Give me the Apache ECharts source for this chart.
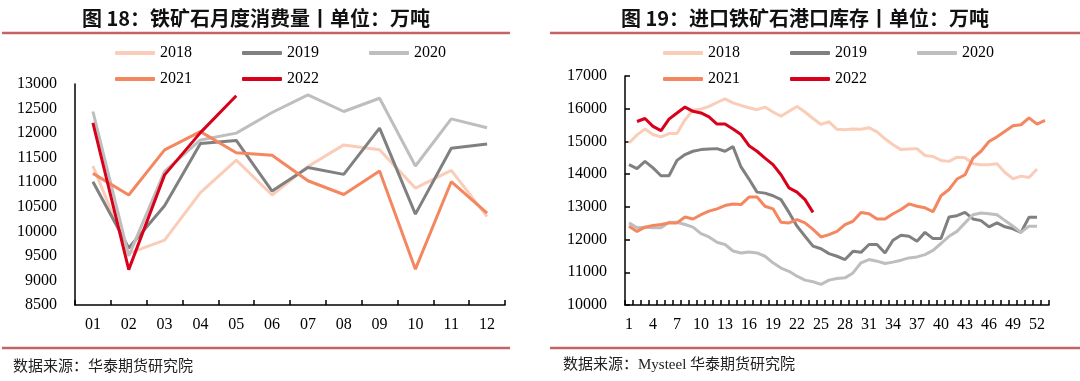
<!DOCTYPE html>
<html>
<head>
<meta charset="utf-8">
<script src="https://cdn.jsdelivr.net/npm/echarts@6/dist/echarts.min.js"></script>
<style>
html,body{margin:0;padding:0;background:#fff;}
#c{width:1080px;height:381px;}
</style>
</head>
<body>
<div id="c"></div>
<script>
// ---------- Data ----------
const months = ['01','02','03','04','05','06','07','08','09','10','11','12'];
const cons2018 = [11330, 9550, 9820, 10790, 11450, 10740, 11320, 11760, 11660, 10880, 11240, 10300];
const cons2019 = [11010, 9660, 10520, 11790, 11850, 10820, 11300, 11160, 12100, 10350, 11690, 11780];
const cons2020 = [12440, 9500, 11220, 11860, 12000, 12420, 12780, 12440, 12710, 11330, 12290, 12110];
const cons2021 = [11180, 10740, 11660, 12030, 11600, 11550, 11030, 10750, 11230, 9230, 11010, 10370];
const cons2022 = [12210, 9220, 11150, 12010, 12760];

const weeks = ['1','2','3','4','5','6','7','8','9','10','11','12','13','14','15','16','17','18','19','20',
  '21','22','23','24','25','26','27','28','29','30','31','32','33','34','35','36','37','38','39','40',
  '41','42','43','44','45','46','47','48','49','50','51','52','53'];
const port2018 = [14950,15200,15380,15210,15140,15240,15240,15660,15950,15990,16070,16190,16300,16180,16100,16030,15970,16050,15900,15770,
  15920,16070,15900,15700,15520,15600,15370,15360,15380,15370,15420,15290,15080,14900,14750,14770,14780,14570,14540,14420,
  14390,14520,14500,14320,14290,14290,14320,14050,13860,13940,13900,14160,null];
const port2019 = [14290,14170,14390,14190,13950,13950,14420,14600,14700,14750,14770,14780,14700,14840,14220,13850,13450,13420,13340,13220,
  12830,12410,12100,11800,11720,11570,11490,11390,11640,11610,11850,11850,11590,11980,12130,12100,11950,12220,12030,12030,
  12690,12730,12830,12630,12580,12390,12510,12390,12330,12220,12680,12680,null];
const port2020 = [12510,12360,12380,12360,12360,12530,12530,12460,12380,12180,12080,11920,11850,11650,11590,11620,11590,11490,11290,11130,
  11030,10880,10760,10710,10630,10760,10810,10830,10980,11290,11390,11340,11270,11310,11370,11440,11470,11540,11670,11880,
  12100,12250,12510,12760,12810,12790,12760,12580,12410,12220,12410,12410,null];
const port2021 = [12410,12250,12380,12430,12460,12510,12510,12690,12630,12760,12870,12940,13040,13090,13070,13300,13300,13020,12940,12530,
  12510,12610,12510,12310,12080,12150,12250,12460,12560,12830,12790,12630,12630,12790,12920,13090,13020,12970,12850,13340,
  13530,13850,13980,14490,14700,15000,15140,15310,15480,15510,15720,15530,15640];
const port2022 = [null,15610,15700,15460,15330,15680,15870,16050,15920,15870,15750,15530,15530,15380,15210,14870,14700,14490,14290,13980,
  13580,13450,13220,12830];

const yearNames = ['2018','2019','2020','2021','2022'];
const colors = ['#F9CDB8','#808080','#BEBEBE','#F4875F','#D9001B'];

// ---------- Chart ----------
const chart = echarts.init(document.getElementById('c'), null, {renderer:'canvas'});
const serif = "'Liberation Serif', 'Noto Sans CJK SC', serif";
const cjk = "'Noto Sans CJK SC', sans-serif";

function xAxisCfg(grid, data, labelInterval, margin){
  return {
    type:'category', gridIndex:grid, data:data, boundaryGap:true,
    axisLine:{show:true, lineStyle:{color:'#000', width:1.5}},
    axisTick:{show:true, inside:true, length:5, interval:0, lineStyle:{color:'#000', width:1.5}},
    axisLabel:{interval:labelInterval, color:'#000', fontSize:16, fontFamily:serif, margin:margin},
    splitLine:{show:false}
  };
}
function yAxisCfg(grid, min, max, interval, ticks){
  return {
    type:'value', gridIndex:grid, min:min, max:max, interval:interval,
    axisLine:{show:true, lineStyle:{color:'#000', width:1.5}},
    axisTick:{show:ticks, inside:true, length:5, lineStyle:{color:'#000', width:1.5}},
    axisLabel:{color:'#000', fontSize:16, fontFamily:serif, margin:18, formatter:(v)=>String(v)},
    splitLine:{show:false}
  };
}
function legendCfg(left, top, names){
  return {
    left:left, top:top, padding:0, itemGap:50, itemWidth:40, itemHeight:4,
    icon:'roundRect', data:names, selectedMode:false,
    textStyle:{color:'#000', fontSize:16, fontFamily:serif, padding:[0,0,0,0]}
  };
}

const leftData = [cons2018, cons2019, cons2020, cons2021, cons2022];
const rightData = [port2018, port2019, port2020, port2021, port2022];
const series = [];
leftData.forEach((d,i)=>series.push({
  name:yearNames[i], type:'line', xAxisIndex:0, yAxisIndex:0, data:d,
  showSymbol:false, symbol:'none', color:colors[i],
  lineStyle:{width:3, color:colors[i]}, z:2+i, animation:false
}));
rightData.forEach((d,i)=>series.push({
  name:yearNames[i], type:'line', xAxisIndex:1, yAxisIndex:1, data:d,
  showSymbol:false, symbol:'none', color:colors[i],
  lineStyle:{width:3, color:colors[i]}, z:2+i, animation:false
}));

const ruleColor = '#C46464';
chart.setOption({
  animation:false,
  backgroundColor:'#fff',
  grid:[
    {left:75, top:84, width:430, height:221},
    {left:625, top:76, width:424, height:229}
  ],
  xAxis:[ xAxisCfg(0, months, 0, 12), xAxisCfg(1, weeks, 2, 12) ],
  yAxis:[ yAxisCfg(0, 8500, 13000, 500, false), yAxisCfg(1, 10000, 17000, 1000, true) ],
  legend:[
    legendCfg(115, 45, ['2018','2019','2020']),
    legendCfg(115, 71, ['2021','2022']),
    legendCfg(663, 45, ['2018','2019','2020']),
    legendCfg(663, 71, ['2021','2022'])
  ],
  series:series,
  graphic:[
    {type:'text', x:256, y:18, style:{text:'图 18：铁矿石月度消费量丨单位：万吨', font:"bold 20px "+cjk, fill:'#111', textAlign:'center', textVerticalAlign:'middle'}},
    {type:'text', x:805, y:18, style:{text:'图 19：进口铁矿石港口库存丨单位：万吨', font:"bold 20px "+cjk, fill:'#111', textAlign:'center', textVerticalAlign:'middle'}},
    {type:'line', shape:{x1:2, y1:33, x2:510, y2:33}, style:{stroke:ruleColor, lineWidth:2.5}},
    {type:'line', shape:{x1:550, y1:33, x2:1080, y2:33}, style:{stroke:ruleColor, lineWidth:2.5}},
    {type:'line', shape:{x1:2, y1:348, x2:510, y2:348}, style:{stroke:ruleColor, lineWidth:2.5}},
    {type:'line', shape:{x1:550, y1:348, x2:1080, y2:348}, style:{stroke:ruleColor, lineWidth:2.5}},
    {type:'text', x:13, y:365, style:{text:'数据来源：华泰期货研究院', font:"15px "+cjk, fill:'#222', textVerticalAlign:'middle'}},
    {type:'text', x:563, y:365, style:{text:'数据来源：Mysteel 华泰期货研究院', font:"15px "+serif, fill:'#222', textVerticalAlign:'middle'}}
  ]
});
</script>
</body>
</html>
